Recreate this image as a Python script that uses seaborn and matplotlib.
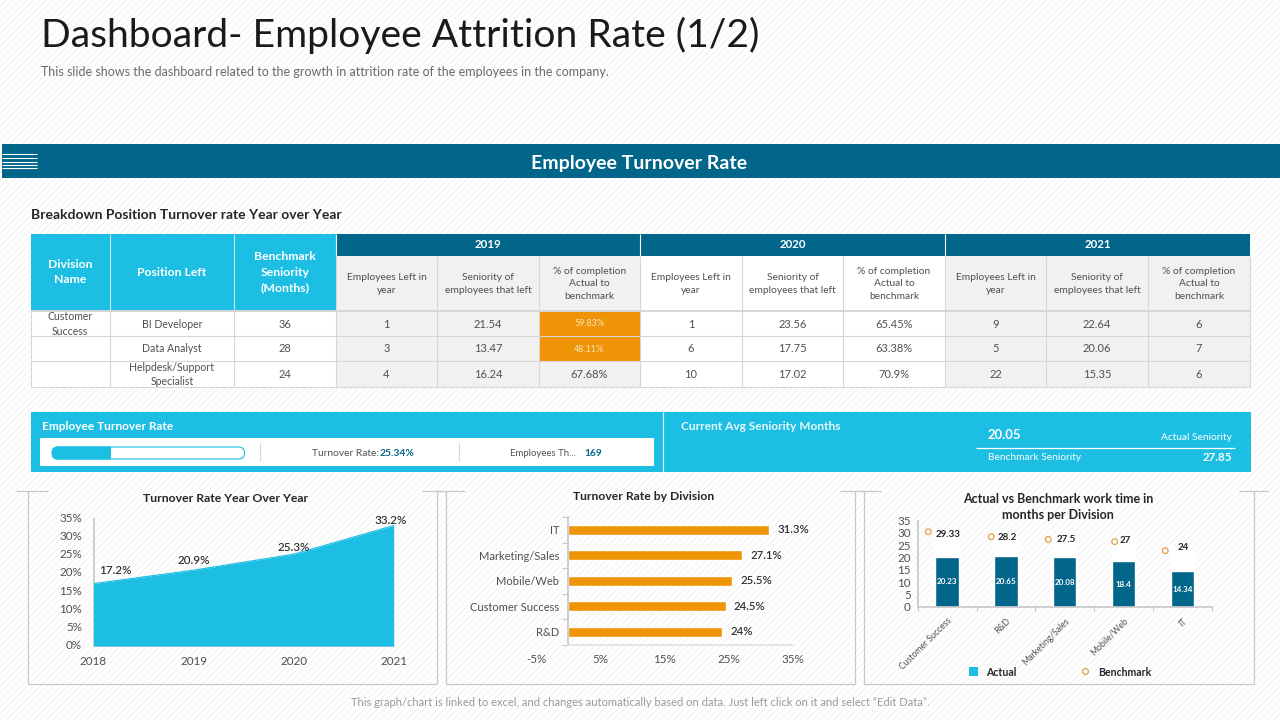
# plot.py
# Employee attrition dashboard rebuilt on one figure

import numpy as np
import matplotlib

matplotlib.use("Agg")
import matplotlib.pyplot as plt
import seaborn as sns
from matplotlib.lines import Line2D
from matplotlib.patches import FancyBboxPatch, Patch, Rectangle
from matplotlib.transforms import ScaledTranslation

# =========================
# Data
# =========================
years = [2018, 2019, 2020, 2021]
turnover_by_year = [17.2, 20.9, 25.3, 33.2]

rate_divisions = ["IT", "Marketing/Sales", "Mobile/Web", "Customer Success", "R&D"]
rate_values = [31.3, 27.1, 25.5, 24.5, 24.0]
rate_labels = ["31.3%", "27.1%", "25.5%", "24.5%", "24%"]

work_divisions = ["Customer Success", "R&D", "Marketing/Sales", "Mobile/Web", "IT"]
actual_months = [20.23, 20.65, 20.08, 18.4, 14.34]
benchmark_months = [29.33, 28.2, 27.5, 27, 24]

table_divisions = ["Customer\nSuccess", "", ""]
table_positions = ["BI Developer", "Data Analyst", "Helpdesk/Support\nSpecialist"]
table_benchmark = [36, 28, 24]
table_years = ["2019", "2020", "2021"]
left_2019 = [1, 3, 4]
seniority_2019 = [21.54, 13.47, 16.24]
completion_2019 = ["59.83%", "48.11%", "67.68%"]
left_2020 = [1, 6, 10]
seniority_2020 = [23.56, 17.75, 17.02]
completion_2020 = ["65.45%", "63.38%", "70.9%"]
left_2021 = [9, 5, 22]
seniority_2021 = [22.64, 20.06, 15.35]
completion_2021 = ["6", "7", "6"]

turnover_rate = 25.34
employees_left = 169
actual_seniority = 20.05
benchmark_seniority = 27.85

# =========================
# Colours and layout (pixels)
# =========================
CYAN = "#1cbfe3"
TEAL = "#02668a"
ORANGE = "#ef9406"
GREY_FILL = "#f1f1f1"
BORDER = "#d6d6d6"
FRAME = "#c8c8c8"
TEXT = "#505050"
DARK = "#262626"

COL_EDGES = [31, 110, 234, 336, 437, 539, 640, 742, 843, 945, 1046, 1148, 1250]
ROW_EDGES = [311, 336, 361, 387]
GAUGE_MAX = 83  # the gauge track in the picture is not a 0-100 scale

sns.set_theme(style="white")
plt.rcParams["font.family"] = ["Lato", "DejaVu Sans"]
plt.rcParams["hatch.linewidth"] = 0.6

fig = plt.figure(figsize=(12.8, 7.2), dpi=100, facecolor="white")

# Full-figure axes in pixel units, used for the slide furniture
bg = fig.add_axes([0, 0, 1, 1], zorder=0)
bg.set_xlim(0, 1280)
bg.set_ylim(720, 0)
bg.axis("off")


def px_axes(left, top, right, bottom):
    """Chart axes placed by pixel edges, on top of the slide."""
    ax = fig.add_axes(
        [left / 1280, 1 - bottom / 720, (right - left) / 1280, (bottom - top) / 720],
        zorder=2,
    )
    ax.patch.set_alpha(0)
    return ax


def label(x, y, text, size=8, color=TEXT, ha="center", va="center", **kw):
    # Lato sits about a pixel high when centred
    bg.text(x, y + 1, text, fontsize=size, color=color, ha=ha, va=va, **kw)


def box(x0, y0, x1, y1, fill, edge="none", lw=0.0, z=1):
    bg.add_patch(
        Rectangle((x0, y0), x1 - x0, y1 - y0, facecolor=fill, edgecolor=edge, linewidth=lw, zorder=z)
    )


def hline(x0, x1, y, color, lw=0.8, z=1.5):
    bg.plot([x0, x1], [y, y], color=color, lw=lw, zorder=z, solid_capstyle="butt")


def vline(x, y0, y1, color, lw=0.8, z=1.5):
    bg.plot([x, x], [y0, y1], color=color, lw=lw, zorder=z, solid_capstyle="butt")


# =========================
# Slide background, title, banner
# =========================
bg.add_patch(
    Rectangle((0, 0), 1280, 720, facecolor="white", edgecolor="#efefef", hatch="/////", linewidth=0, zorder=0)
)
label(41, 34, "Dashboard- Employee Attrition Rate (1/2)", size=28.1, color="#1a1a1a", ha="left")
label(
    41, 71.5,
    "This slide shows the dashboard related to the growth in attrition rate of the employees in the company.",
    size=9, color="#6a6a6a", ha="left",
)
box(2, 144, 1280, 178, TEAL)
for stripe_y in [154.3, 158.3, 161.7, 165, 168.3]:
    hline(2, 37, stripe_y, "white", lw=0.8, z=2)
label(639, 162, "Employee Turnover Rate", size=14, color="white", fontweight="bold", zorder=3)
label(31, 214, "Breakdown Position Turnover rate Year over Year", size=10, color=DARK, ha="left", fontweight="bold")
label(
    640, 701,
    "This graph/chart is linked to excel, and changes automatically based on data. Just left click on it and select \u201cEdit Data\u201d.",
    size=8.04, color="#9a9a9a",
)

# =========================
# Table
# =========================
box(31, 234, 110, 311, CYAN)
box(110, 234, 234, 311, CYAN)
box(234, 234, 336, 311, CYAN)
vline(110, 234, 311, "#c9e6f0", z=2)
vline(234, 234, 311, "#c9e6f0", z=2)
label(70, 271, "Division\nName", size=8.8, color="white", fontweight="bold", linespacing=1.5, zorder=3)
label(172, 271, "Position Left", size=8.8, color="white", fontweight="bold", zorder=3)
label(285, 271, "Benchmark\nSeniority\n(Months)", size=8.8, color="white", fontweight="bold", linespacing=1.5, zorder=3)

sub_headers = ["Employees Left in\nyear", "Seniority of\nemployees that left", "% of completion\nActual to\nbenchmark"]
year_columns = [
    (left_2019, seniority_2019, completion_2019),
    (left_2020, seniority_2020, completion_2020),
    (left_2021, seniority_2021, completion_2021),
]
for y_i, year in enumerate(table_years):
    x0 = COL_EDGES[3 + 3 * y_i]
    x1 = COL_EDGES[6 + 3 * y_i]
    box(x0, 234, x1, 256, TEAL)
    vline(x0, 234, 256, "white", z=2)
    label((x0 + x1) / 2, 244, year, size=8.3, color="white", fontweight="bold", zorder=3)
    fill = "white" if year == "2020" else GREY_FILL
    for c_i, values in enumerate(year_columns[y_i]):
        cx0 = COL_EDGES[3 + 3 * y_i + c_i]
        cx1 = COL_EDGES[4 + 3 * y_i + c_i]
        box(cx0, 256, cx1, 311, fill)
        label((cx0 + cx1) / 2, 283, sub_headers[c_i], size=7.4, linespacing=1.55, zorder=3)
        for r_i, value in enumerate(values):
            cell_fill = fill
            text_color = TEXT
            text_size = 8
            # the low completion cells of the first year are flagged in orange
            if year == "2019" and c_i == 2 and float(value.rstrip("%")) < 60:
                cell_fill = ORANGE
                text_color = "#f8e3bf"
                text_size = 6.5
            box(cx0, ROW_EDGES[r_i], cx1, ROW_EDGES[r_i + 1], cell_fill)
            label((cx0 + cx1) / 2, (ROW_EDGES[r_i] + ROW_EDGES[r_i + 1]) / 2 - 0.5, str(value),
                  size=text_size, color=text_color, zorder=3)

for r_i in range(3):
    y0, y1 = ROW_EDGES[r_i], ROW_EDGES[r_i + 1]
    box(31, y0, 336, y1, "white")
    mid = (y0 + y1) / 2 - 0.5
    label(70, mid, table_divisions[r_i], size=7.6, linespacing=1.35, zorder=3)
    label(172, mid, table_positions[r_i], size=7.6, linespacing=1.35, zorder=3)
    label(285, mid, str(table_benchmark[r_i]), size=8, zorder=3)

for y_edge in ROW_EDGES[1:]:
    hline(31, 1250, y_edge, BORDER, lw=0.8, z=2)
hline(31, 1250, 311, BORDER, lw=1.4, z=2)
for x_edge in COL_EDGES[:-1]:
    vline(x_edge, 311, 387, BORDER, z=2)
vline(1250, 256, 387, BORDER, z=2)
for x_edge in COL_EDGES[3:-1]:
    vline(x_edge, 256, 311, BORDER, z=2)

# =========================
# KPI strip
# =========================
box(31, 412, 1251, 472, CYAN)
box(40, 438, 654, 466, "white", z=1.2)
vline(662.5, 412, 472, "#e6f7fb", z=2)
label(42, 426, "Employee Turnover Rate", size=8.6, color="white", ha="left", fontweight="bold")
label(681, 426, "Current Avg Seniority Months", size=8.6, color="#e8f8fc", ha="left", fontweight="bold")

track = FancyBboxPatch((52, 447), 192.5, 12, boxstyle="round,pad=0,rounding_size=6",
                       facecolor="white", edgecolor=CYAN, linewidth=0.8, zorder=2)
bg.add_patch(track)
gauge = FancyBboxPatch((52, 447), 192.5, 12, boxstyle="round,pad=0,rounding_size=6",
                       facecolor=CYAN, edgecolor=CYAN, linewidth=0.8, zorder=2.1)
bg.add_patch(gauge)
gauge.set_clip_path(
    Rectangle((52, 440), 192.5 * turnover_rate / GAUGE_MAX, 26, transform=bg.transData)
)
vline(259.5, 443, 461, "#d8d8d8", z=2)
vline(458.5, 443, 461, "#d8d8d8", z=2)
label(378.5, 452, "Turnover Rate:", size=7.4, ha="right", zorder=3)
label(380, 452, f"{turnover_rate}%", size=7.4, color=TEAL, ha="left", fontweight="bold", zorder=3)
label(576, 452, "Employees Th...", size=6.9, ha="right", zorder=3)
label(584, 452, str(employees_left), size=7.4, color=TEAL, ha="left", fontweight="bold", zorder=3)

label(988, 434, str(actual_seniority), size=9.4, color="white", ha="left", fontweight="bold", zorder=3)
label(1232, 437, "Actual Seniority", size=7.3, color="white", ha="right", zorder=3)
hline(976, 1235, 447.7, "white", lw=0.9, z=2)
label(988, 457, "Benchmark Seniority", size=7.3, color="white", ha="left", zorder=3)
label(1232, 456.5, str(benchmark_seniority), size=8.3, color="white", ha="right", fontweight="bold", zorder=3)

# =========================
# Chart frames with the small top stubs
# =========================
frames = [(28, 437, 16, 48, 422, 449), (446, 855, 434, 465, 840, 867), (864, 1254, 852, 881, 1239, 1268)]
for fx0, fx1, s0, s1, s2, s3 in frames:
    vline(fx0, 491, 684, FRAME, lw=0.9)
    vline(fx1, 491, 684, FRAME, lw=0.9)
    hline(fx0, fx1, 684, FRAME, lw=0.9)
    hline(s0, s1, 491, FRAME, lw=0.9)
    hline(s2, s3, 491, FRAME, lw=0.9)

label(226, 497, "Turnover Rate Year Over Year", size=8.8, color=DARK, fontweight="bold")
label(644, 496, "Turnover Rate by Division", size=8.7, color=DARK, fontweight="bold")
label(1058, 506, "Actual vs Benchmark work time in\nmonths per Division", size=9, color=DARK,
      fontweight="bold", linespacing=1.35)

# =========================
# Area chart: turnover by year
# =========================
ax1 = px_axes(93.5, 519, 393.7, 646)
sns.lineplot(x=years, y=turnover_by_year, color=CYAN, linewidth=0.8, zorder=3, ax=ax1)
ax1.fill_between(years, turnover_by_year, color=CYAN, linewidth=0, zorder=3)
ax1.set_xlim(years[0], years[-1])
ax1.set_ylim(0, 35)
ax1.set_xticks(years)
ax1.set_yticks(np.arange(0, 36, 5))
ax1.set_yticklabels([f"{v}%" for v in range(0, 36, 5)])
ax1.tick_params(axis="x", colors=TEXT, labelsize=8.4, length=3, width=0.8, color=FRAME, pad=4)
ax1.tick_params(axis="y", labelcolor=TEXT, labelsize=8.4, length=0, pad=8.3)
sns.despine(ax=ax1)
ax1.spines["left"].set_color(FRAME)
ax1.spines["bottom"].set_color(FRAME)
for tick_label in ax1.get_yticklabels():
    tick_label.set_transform(tick_label.get_transform() + ScaledTranslation(0, 1.5 / 100, fig.dpi_scale_trans))
year_offsets = [(22, 12.6), (0, 9.4), (0, 7), (-3, 5)]
for year, rate, (dx, dy) in zip(years, turnover_by_year, year_offsets):
    ax1.annotate(f"{rate}%", (year, rate), xytext=(dx * 0.72, dy * 0.72), textcoords="offset points",
                 ha="center", va="center", fontsize=8.4, color=DARK, fontweight="medium",
                 annotation_clip=False, zorder=5)

# =========================
# Bar chart: turnover by division
# =========================
ax2 = px_axes(536, 517, 793, 644.5)
sns.barplot(x=rate_values, y=rate_divisions, orient="h", color=ORANGE, saturation=1, width=0.39, ax=ax2)
ax2.set_xlim(-5, 35)
ax2.set_ylim(4.5, -0.5)
ax2.set_xticks([-5, 5, 15, 25, 35])
ax2.set_xticklabels(["-5%", "5%", "15%", "25%", "35%"])
sns.despine(ax=ax2)
ax2.spines["left"].set_position(("data", 0))
ax2.spines["left"].set_color(FRAME)
ax2.spines["bottom"].set_color("#e2e2e2")
ax2.spines["bottom"].set_bounds(0, 35)
ax2.set_yticks(np.arange(-0.5, 5), minor=True)
ax2.tick_params(axis="x", labelcolor=TEXT, labelsize=8.4, length=0, pad=7)
ax2.tick_params(axis="y", which="major", labelcolor=TEXT, labelsize=8, length=0, pad=6.5)
ax2.tick_params(axis="y", which="minor", direction="out", length=4, width=0.8, color=FRAME, left=True)
for i, (value, text) in enumerate(zip(rate_values, rate_labels)):
    ax2.annotate(text, (value, i), xytext=(6, 0), textcoords="offset points", ha="left", va="center",
                 fontsize=8.2, color=DARK, fontweight="medium", annotation_clip=False)

# =========================
# Actual vs benchmark chart
# =========================
ax3 = px_axes(917.7, 520.7, 1211.7, 606.7)
sns.barplot(x=work_divisions, y=benchmark_months, color="white", saturation=1, width=0.4, ax=ax3)
sns.barplot(x=work_divisions, y=actual_months, color=TEAL, saturation=1, width=0.4, ax=ax3)
marker_shift_x = [-0.32, -0.25, -0.28, -0.15, -0.29]  # markers sit left of their bars
marker_shift_y = [1.2, 0.3, -0.1, -0.5, -1.2]
sns.scatterplot(
    x=np.arange(5) + marker_shift_x,
    y=np.array(benchmark_months) + marker_shift_y,
    marker="o", s=17, facecolor="none", edgecolor="#e3a146", linewidth=0.9, zorder=4, ax=ax3,
    clip_on=False,
)
ax3.set_xlim(-0.5, 4.5)
ax3.set_ylim(0, 35)
ax3.set_yticks(np.arange(0, 36, 5))
ax3.set_xticks(range(5))
ax3.set_xticklabels(work_divisions, rotation=45, ha="right", rotation_mode="anchor")
ax3.set_xticks(np.arange(-0.5, 5), minor=True)
ax3.tick_params(axis="x", which="major", length=0, labelcolor=TEXT, labelsize=6.2, pad=7)
ax3.tick_params(axis="x", which="minor", bottom=True, length=3, width=0.8, color=FRAME)
ax3.tick_params(axis="y", labelcolor=TEXT, labelsize=8.4, length=0, pad=5)
sns.despine(ax=ax3)
ax3.spines["left"].set_color(FRAME)
ax3.spines["bottom"].set_color(FRAME)
for i, (actual, bench) in enumerate(zip(actual_months, benchmark_months)):
    ax3.annotate(str(actual), (i, actual / 2), ha="center", va="center", fontsize=5.8,
                 color="white", fontweight="bold")
    ax3.annotate(str(bench), (i, bench), xytext=(1, 0), textcoords="offset points", ha="center",
                 va="center", fontsize=7, color=DARK, fontweight="bold", annotation_clip=False)
handles = [
    Patch(facecolor=CYAN, edgecolor="none", label="Actual"),
    Line2D([], [], marker="o", linestyle="none", markersize=4.2, markerfacecolor="none",
           markeredgecolor="#e3a146", markeredgewidth=0.9, label="Benchmark"),
]
legend = ax3.legend(
    handles=handles, loc="center", bbox_to_anchor=(1060, 672), bbox_transform=bg.transData,
    ncol=2, frameon=False, fontsize=7.6, handlelength=0.9, handleheight=0.9, columnspacing=6,
    handletextpad=0.8, labelcolor=DARK,
)
for legend_text in legend.get_texts():
    legend_text.set_fontweight("bold")

for ax in (ax1, ax2, ax3):
    ax.set_xlabel("")
    ax.set_ylabel("")

fig.savefig("out.png", dpi=100)
